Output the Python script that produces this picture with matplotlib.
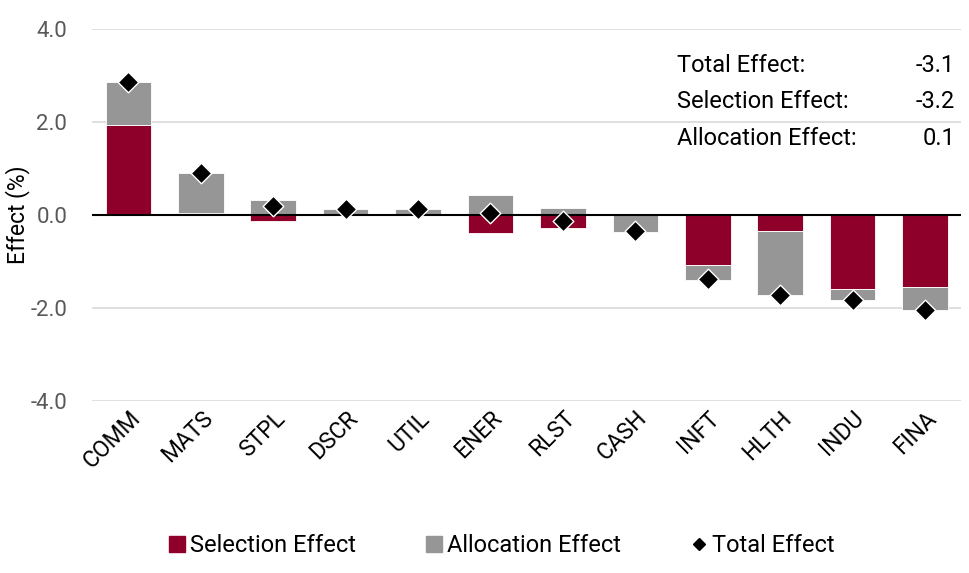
import matplotlib
matplotlib.use("Agg")
import matplotlib.pyplot as plt
import numpy as np
from matplotlib.lines import Line2D

plt.rcParams['font.family'] = ['Roboto', 'DejaVu Sans']

categories = ["COMM", "MATS", "STPL", "DSCR", "UTIL", "ENER", "RLST", "CASH", "INFT", "HLTH", "INDU", "FINA"]
selection = [1.95, 0.04, -0.12, 0.03, 0.01, -0.39, -0.28, 0.0, -1.07, -0.34, -1.59, -1.55]
allocation = [0.91, 0.86, 0.32, 0.10, 0.12, 0.43, 0.15, -0.36, -0.32, -1.37, -0.23, -0.49]
total = [2.86, 0.90, 0.20, 0.13, 0.13, 0.04, -0.13, -0.35, -1.38, -1.71, -1.82, -2.03]
yticks = [-4.0, -2.0, 0.0, 2.0, 4.0]
summary_labels = ["Total Effect:", "Selection Effect:", "Allocation Effect:"]
summary_values = ["-3.1", "-3.2", "0.1"]

RED = "#8E0029"
GRAY = "#969696"

fig = plt.figure(figsize=(9.7, 5.73), dpi=100)
ax = fig.add_axes([0.095, 0.300, 0.896, 0.649])

x = np.arange(len(categories))
sel = np.array(selection)
alc = np.array(allocation)
sel_bottom = np.zeros_like(sel)
# allocation stacked on the same-sign side of selection
alc_bottom = np.where(np.sign(alc) == np.sign(sel), sel, 0.0)
alc_bottom = np.where(sel == 0, 0.0, alc_bottom)

w = 0.63
ax.bar(x, sel, w, bottom=sel_bottom, color=RED, edgecolor="white", linewidth=0.6, zorder=2)
ax.bar(x, alc, w, bottom=alc_bottom, color=GRAY, edgecolor="white", linewidth=0.6, zorder=2)
ax.scatter(x, total, marker="D", s=110, color="black", edgecolor="white", linewidth=1.0, zorder=4)

ax.set_xlim(-0.5, len(categories) - 0.5)
ax.set_ylim(-4.0, 4.0)
ax.set_yticks(yticks)
ax.set_yticklabels([f"{v:.1f}" for v in yticks], color="#595959", fontsize=16)
for v in yticks:
    if v == 0:
        ax.axhline(v, color="black", linewidth=1.5, zorder=3)
    else:
        ax.axhline(v, color="#D9D9D9", linewidth=1.2, zorder=1)
ax.tick_params(axis='y', length=0, pad=18)
ax.tick_params(axis='x', length=0, pad=4)
ax.set_xticks(x)
ax.set_xticklabels(categories, rotation=45, ha='right', rotation_mode='anchor', fontsize=16.5, color="black")
for s in ax.spines.values():
    s.set_visible(False)
ax.set_ylabel("Effect (%)", fontsize=16.5, color="black")
ax.yaxis.set_label_coords(-0.072, 0.5)

# summary text
ys = [0.884, 0.788, 0.688]
for lab, val, yy in zip(summary_labels, summary_values, ys):
    ax.text(0.673, yy, lab, transform=ax.transAxes, fontsize=17, color="black", va="baseline", ha="left")
    ax.text(0.993, yy, val, transform=ax.transAxes, fontsize=17, color="black", va="baseline", ha="right")

handles = [
    Line2D([], [], marker="s", linestyle="none", color=RED, markersize=11, label="Selection Effect"),
    Line2D([], [], marker="s", linestyle="none", color=GRAY, markersize=11, label="Allocation Effect"),
    Line2D([], [], marker="D", linestyle="none", color="black", markersize=6.5, label="Total Effect"),
]
fig.legend(handles=handles, loc="center", bbox_to_anchor=(0.517, 0.048), ncol=3, frameon=False,
           fontsize=17, handletextpad=0.2, columnspacing=2.95, handlelength=0.7)

fig.savefig("out.png", dpi=100)
